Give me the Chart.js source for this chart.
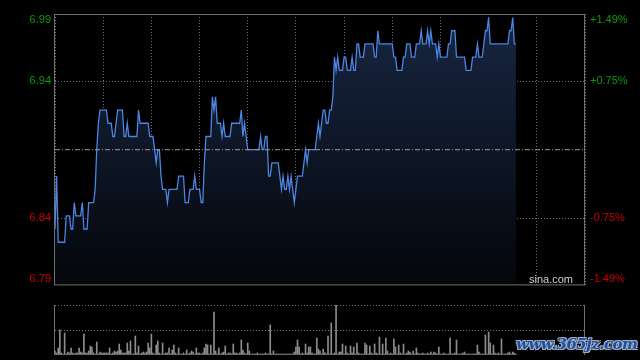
<!DOCTYPE html>
<html>
<head>
<meta charset="utf-8">
<script src="https://cdn.jsdelivr.net/npm/chart.js@4/dist/chart.umd.min.js"></script>
<style>
  html, body { margin: 0; padding: 0; background: #000; }
  #wrap { position: relative; width: 640px; height: 360px; background: #000; overflow: hidden; }
  #price { position: absolute; left: 0; top: 0; }
  #vol { position: absolute; left: 0; top: 290px; }
  #wm { position: absolute; left: 516px; top: 335px; font: bold italic 15px "DejaVu Serif", serif; color: #1f4f9c;
        letter-spacing: -0.5px;
        text-shadow: -1px -1px 0 #9fb0c8, 1px -1px 0 #9fb0c8, -1px 1px 0 #9fb0c8, 1px 1px 0 #9fb0c8; }
</style>
</head>
<body>
<div id="wrap">
  <canvas id="price" width="640" height="297"></canvas>
  <canvas id="vol" width="640" height="70"></canvas>
  <div id="wm">www.365jz.com</div>
</div>
<script>
// ---- data ----
const prevClose = 6.89;
const sessionMinutes = 330;      // 09:30-12:00 + 13:00-16:00
const gridStepMinutes = 30;
const pctLevels = [-1.49, -0.75, 0.75, 1.49];
const priceLabels = ['6.79', '6.84', '6.94', '6.99'];
const pctLabels = ['-1.49%', '-0.75%', '+0.75%', '+1.49%'];

const prices = [
  6.83, 6.87, 6.82, 6.82, 6.82, 6.82, 6.82, 6.84, 6.84, 6.84,
  6.83, 6.83, 6.85, 6.84, 6.84, 6.84, 6.84, 6.85, 6.83, 6.83,
  6.83, 6.85, 6.85, 6.85, 6.85, 6.86, 6.89, 6.91, 6.92, 6.92,
  6.92, 6.92, 6.92, 6.91, 6.91, 6.91, 6.90, 6.90, 6.91, 6.92,
  6.92, 6.92, 6.92, 6.90, 6.90, 6.91, 6.90, 6.90, 6.90, 6.90,
  6.90, 6.90, 6.92, 6.91, 6.91, 6.91, 6.91, 6.91, 6.91, 6.90,
  6.90, 6.90, 6.89, 6.88, 6.89, 6.89, 6.87, 6.86, 6.86, 6.86,
  6.85, 6.86, 6.86, 6.86, 6.86, 6.86, 6.86, 6.87, 6.87, 6.87,
  6.87, 6.85, 6.85, 6.85, 6.86, 6.86, 6.86, 6.87, 6.86, 6.86,
  6.86, 6.85, 6.85, 6.88, 6.90, 6.90, 6.90, 6.90, 6.93, 6.92,
  6.93, 6.91, 6.91, 6.91, 6.90, 6.91, 6.90, 6.90, 6.90, 6.90,
  6.91, 6.91, 6.91, 6.91, 6.91, 6.91, 6.92, 6.90, 6.91, 6.90,
  6.89, 6.89, 6.89, 6.89, 6.89, 6.89, 6.89, 6.89, 6.90, 6.89,
  6.89, 6.90, 6.90, 6.87, 6.87, 6.88, 6.88, 6.88, 6.88, 6.88,
  6.87, 6.86, 6.87, 6.86, 6.86, 6.87, 6.86, 6.87, 6.86, 6.85,
  6.86, 6.87, 6.87, 6.87, 6.87, 6.88, 6.89, 6.88, 6.89, 6.89,
  6.89, 6.89, 6.89, 6.90, 6.91, 6.90, 6.91, 6.92, 6.92, 6.91,
  6.91, 6.92, 6.92, 6.93, 6.96, 6.95, 6.96, 6.95, 6.95, 6.95,
  6.96, 6.96, 6.95, 6.95, 6.95, 6.96, 6.95, 6.95, 6.97, 6.97,
  6.96, 6.96, 6.96, 6.97, 6.97, 6.97, 6.97, 6.97, 6.97, 6.96,
  6.96, 6.98, 6.97, 6.97, 6.97, 6.97, 6.97, 6.97, 6.97, 6.97,
  6.97, 6.96, 6.96, 6.95, 6.95, 6.95, 6.95, 6.96, 6.96, 6.97,
  6.97, 6.97, 6.96, 6.96, 6.96, 6.97, 6.97, 6.97, 6.98, 6.97,
  6.97, 6.97, 6.98, 6.97, 6.98, 6.97, 6.97, 6.97, 6.96, 6.97,
  6.96, 6.96, 6.96, 6.96, 6.96, 6.97, 6.97, 6.98, 6.98, 6.98,
  6.96, 6.96, 6.96, 6.96, 6.96, 6.96, 6.95, 6.95, 6.95, 6.95,
  6.96, 6.96, 6.96, 6.97, 6.96, 6.96, 6.96, 6.97, 6.98, 6.98,
  6.99, 6.97, 6.97, 6.97, 6.97, 6.97, 6.97, 6.97, 6.97, 6.97,
  6.97, 6.97, 6.97, 6.98, 6.98, 6.99, 6.97, 6.97
];

const volumes = [
  4, 2, 7, 25, 2, 1, 22, 1, 3, 2,
  7, 2, 1, 2, 2, 7, 3, 2, 21, 2,
  2, 4, 9, 8, 2, 1, 13, 1, 3, 2,
  2, 2, 2, 2, 7, 1, 2, 4, 3, 4,
  11, 5, 2, 2, 2, 12, 4, 14, 1, 1,
  19, 2, 9, 1, 2, 3, 2, 3, 12, 7,
  21, 2, 1, 10, 14, 2, 1, 12, 1, 2,
  2, 7, 1, 5, 10, 2, 1, 7, 1, 1,
  2, 1, 5, 1, 2, 4, 3, 1, 7, 2,
  2, 1, 2, 7, 11, 10, 1, 10, 1, 43,
  4, 1, 7, 1, 2, 3, 9, 1, 2, 2,
  1, 11, 2, 2, 1, 2, 15, 5, 2, 1,
  12, 4, 1, 1, 1, 1, 2, 1, 1, 1,
  1, 2, 1, 1, 30, 1, 4, 1, 1, 1,
  1, 1, 1, 1, 1, 1, 1, 1, 1, 3,
  8, 15, 8, 1, 2, 1, 11, 2, 8, 8,
  2, 1, 1, 17, 6, 4, 1, 6, 2, 1,
  19, 1, 32, 1, 2, 50, 1, 3, 3, 11,
  1, 9, 2, 1, 9, 2, 8, 1, 12, 2,
  1, 1, 1, 12, 10, 1, 9, 2, 1, 11,
  2, 1, 18, 1, 11, 1, 17, 4, 1, 2,
  1, 16, 8, 1, 10, 2, 1, 11, 1, 2,
  4, 3, 1, 4, 1, 7, 2, 1, 1, 2,
  1, 1, 2, 1, 3, 1, 3, 2, 1, 8,
  1, 1, 2, 1, 1, 1, 17, 1, 1, 2,
  15, 1, 1, 1, 2, 3, 1, 1, 1, 1,
  1, 1, 1, 10, 3, 1, 1, 1, 20, 1,
  23, 12, 1, 10, 2, 1, 2, 1, 16, 1,
  1, 1, 2, 3, 1, 3, 2, 1
];
const volMax = 50;

// ---- derived ----
const yMax = prevClose * (1 + pctLevels[3] / 100);
const yMin = prevClose * (1 + pctLevels[0] / 100);
const green = '#0a9a0a', red = '#d00000';
const gridCol = '#6e6e6e';

Chart.defaults.font.family = 'Arial, "Liberation Sans", sans-serif';
Chart.defaults.font.size = 11;
Chart.defaults.animation = false;

const framePlugin = {
  id: 'frame',
  afterDraw(chart, args, opts) {
    const a = chart.chartArea, c = chart.ctx;
    c.save();
    c.strokeStyle = '#707070';
    c.lineWidth = 1;
    if (opts.full) {
      c.strokeRect(a.left - 0.5, a.top + 0.5, a.right - a.left, a.bottom - a.top - 1);
    } else {
      c.beginPath();
      c.moveTo(a.left - 0.5, a.top); c.lineTo(a.left - 0.5, a.bottom);
      c.moveTo(a.right - 0.5, a.top); c.lineTo(a.right - 0.5, a.bottom);
      c.stroke();
    }
    if (opts.brand) {
      c.fillStyle = '#cfcfcf';
      c.font = '11px Arial, "Liberation Sans", sans-serif';
      c.textAlign = 'right';
      c.textBaseline = 'middle';
      c.fillText(opts.brand, a.right - 12, a.bottom - 5);
    }
    c.restore();
  }
};

function edgeTicks(scale) {
  const inset = (yMax - yMin) * 6 / 270;
  scale.ticks = pctLevels.map((p, i) => {
    let v = prevClose * (1 + p / 100);
    if (i === 0) v += inset;
    if (i === pctLevels.length - 1) v -= inset;
    return { value: v };
  });
}

new Chart(document.getElementById('price'), {
  type: 'line',
  data: {
    datasets: [
      {
        label: 'price',
        data: prices.map((p, i) => ({ x: i, y: p })),
        borderColor: '#4a86e4',
        borderWidth: 1.3,
        pointRadius: 0,
        tension: 0,
        fill: 'start',
        order: 1,
        backgroundColor(ctx) {
          const a = ctx.chart.chartArea;
          if (!a) return 'rgba(20,32,56,1)';
          const g = ctx.chart.ctx.createLinearGradient(0, a.top, 0, a.bottom);
          g.addColorStop(0, 'rgba(24,38,66,1)');
          g.addColorStop(1, 'rgba(4,6,10,1)');
          return g;
        }
      },
      {
        label: 'prev close',
        data: [{ x: 0, y: prevClose }, { x: sessionMinutes, y: prevClose }],
        borderColor: '#9a9a9a',
        borderWidth: 1,
        borderDash: [5, 2, 1, 2],
        pointRadius: 0,
        fill: false,
        order: 0
      }
    ]
  },
  options: {
    responsive: false,
    layout: { padding: { top: 14, left: 0, right: 0, bottom: 0 } },
    plugins: { legend: { display: false }, tooltip: { enabled: false }, frame: { full: true, brand: 'sina.com' } },
    scales: {
      x: {
        type: 'linear', min: 0, max: sessionMinutes,
        ticks: { display: false, stepSize: gridStepMinutes },
        grid: { color: gridCol, drawTicks: false, lineWidth: 1 },
        border: { display: false, dash: [1, 2] },
        afterFit(s) { s.height = 6; }
      },
      y: {
        position: 'left', min: yMin, max: yMax,
        afterBuildTicks: edgeTicks,
        ticks: {
          autoSkip: false, padding: 4,
          color: (c) => pctLevels[c.index] > 0 ? green : red,
          callback: (v, i) => priceLabels[i]
        },
        grid: {
          drawTicks: false,
          color: (c) => (c.index === 1 || c.index === 2) ? gridCol : 'rgba(0,0,0,0)'
        },
        border: { display: false, dash: [1, 2] },
        afterFit(s) { s.width = 55; }
      },
      y2: {
        position: 'right', min: yMin, max: yMax,
        afterBuildTicks: edgeTicks,
        ticks: {
          autoSkip: false, padding: 5,
          color: (c) => pctLevels[c.index] > 0 ? green : red,
          callback: (v, i) => pctLabels[i]
        },
        grid: { display: false, drawTicks: false },
        border: { display: false },
        afterFit(s) { s.width = 55; }
      }
    }
  },
  plugins: [framePlugin]
});

new Chart(document.getElementById('vol'), {
  type: 'bar',
  data: {
    datasets: [{
      label: 'volume',
      data: volumes.map((v, i) => ({ x: i, y: v })),
      backgroundColor: '#8c8c8c',
      barThickness: 1,
      borderWidth: 0
    }]
  },
  options: {
    responsive: false,
    layout: { padding: { top: 15, left: 0, right: 55, bottom: 0 } },
    plugins: { legend: { display: false }, tooltip: { enabled: false }, frame: { full: false } },
    scales: {
      x: {
        type: 'linear', min: 0, max: sessionMinutes, offset: false,
        ticks: { display: false },
        grid: { display: false, drawTicks: false },
        border: { display: false },
        afterFit(s) { s.height = 5; }
      },
      y: {
        position: 'left', min: 0, max: volMax,
        ticks: { display: false, stepSize: volMax / 2 },
        grid: {
          drawTicks: false,
          color: (c) => c.index === 0 ? 'rgba(0,0,0,0)' : gridCol
        },
        border: { display: false, dash: [1, 2] },
        afterFit(s) { s.width = 55; }
      }
    }
  },
  plugins: [framePlugin]
});
</script>
</body>
</html>
